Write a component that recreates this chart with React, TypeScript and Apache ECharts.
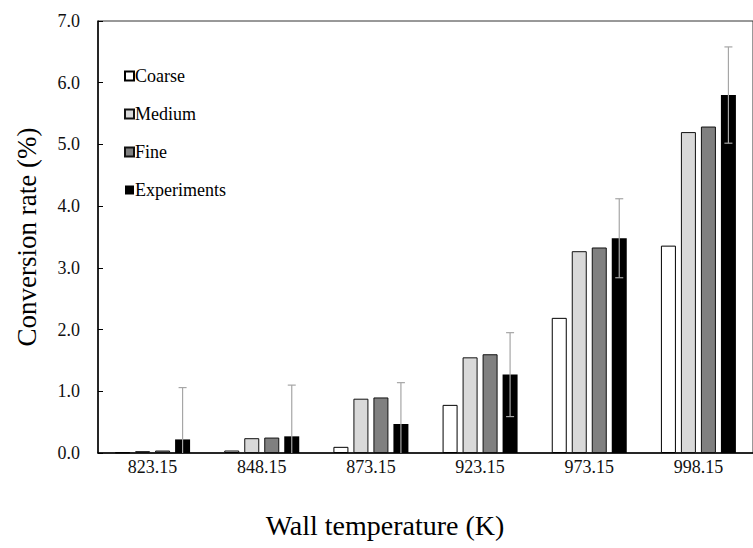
import React, { useEffect, useRef } from "react";
import * as echarts from "echarts";

const categories = ["823.15", "848.15", "873.15", "923.15", "973.15", "998.15"];
const coarse = [0.01, 0.04, 0.1, 0.78, 2.19, 3.36];
const medium = [0.03, 0.24, 0.88, 1.55, 3.27, 5.2];
const fine = [0.04, 0.25, 0.9, 1.6, 3.33, 5.29];
const experiments = [0.22, 0.27, 0.47, 1.27, 3.48, 5.8];
const expError = [0.84, 0.83, 0.67, 0.68, 0.64, 0.78];
const yTicks = [0, 1, 2, 3, 4, 5, 6, 7];

const FONT = "Liberation Serif";
const BAR_W = 15;
const BAR_GAP = 5;

export default function App() {
  const ref = useRef<HTMLDivElement>(null);
  useEffect(() => {
    if (!ref.current) return;
    const chart = echarts.init(ref.current, undefined, { renderer: "svg" });
    const errData = experiments.map((v, i) => [i, Math.max(0, v - expError[i]), v + expError[i]]);
    const barBase = {
      type: "bar" as const,
      barWidth: BAR_W,
      barGap: `${(BAR_GAP / BAR_W) * 100}%`,
    };
    chart.setOption({
      animation: false,
      backgroundColor: "#fff",
      textStyle: { fontFamily: FONT },
      grid: { left: 98, top: 21, width: 660, height: 432, show: true, borderColor: "#333", borderWidth: 1, backgroundColor: "transparent" },
      legend: {
        orient: "vertical",
        left: 119,
        top: 62,
        itemWidth: 9,
        itemHeight: 9,
        itemGap: 20,
        icon: "rect",
        textStyle: { fontFamily: FONT, fontSize: 18, color: "#000", padding: [0, 0, 0, -4] },
        data: ["Coarse", "Medium", "Fine", "Experiments"],
      },
      xAxis: {
        type: "category",
        data: categories,
        axisLine: { lineStyle: { color: "#000", width: 1.5 } },
        axisTick: { show: false },
        axisLabel: { fontFamily: FONT, fontSize: 18, color: "#111", margin: 5 },
      },
      yAxis: {
        type: "value",
        min: yTicks[0],
        max: yTicks[yTicks.length - 1],
        interval: 1,
        splitLine: { show: false },
        axisLine: { show: true, lineStyle: { color: "#000", width: 1.5 } },
        axisTick: { show: true, inside: true, length: 5, lineStyle: { color: "#000" } },
        axisLabel: { fontFamily: FONT, fontSize: 18, color: "#111", margin: 18, formatter: (v: number) => v.toFixed(1) },
      },
      graphic: [
        {
          type: "text",
          x: 385,
          y: 525,
          style: { text: "Wall temperature (K)", fontFamily: FONT, fontSize: 28, fill: "#000", align: "center", verticalAlign: "middle" },
        },
        {
          type: "text",
          x: 27,
          y: 237,
          rotation: Math.PI / 2,
          style: { text: "Conversion rate (%)", fontFamily: FONT, fontSize: 27, fill: "#000", align: "center", verticalAlign: "middle" },
        },
      ],
      series: [
        { ...barBase, name: "Coarse", data: coarse, itemStyle: { color: "#ffffff", borderColor: "#000", borderWidth: 1 } },
        { ...barBase, name: "Medium", data: medium, itemStyle: { color: "#d9d9d9", borderColor: "#111", borderWidth: 1 } },
        { ...barBase, name: "Fine", data: fine, itemStyle: { color: "#808080", borderColor: "#111", borderWidth: 1 } },
        { ...barBase, name: "Experiments", data: experiments, itemStyle: { color: "#000000" } },
        {
          type: "custom",
          name: "err",
          data: errData,
          encode: { x: 0, y: [1, 2] },
          z: 10,
          renderItem: (params: any, api: any) => {
            const xi = api.value(0);
            const lo = api.coord([xi, api.value(1)]);
            const hi = api.coord([xi, api.value(2)]);
            const x = hi[0] + 1.5 * (BAR_W + BAR_GAP);
            const cap = 4;
            const style = { stroke: "#a6a6a6", lineWidth: 1.2 };
            const children: any[] = [
              { type: "line", shape: { x1: x, y1: lo[1], x2: x, y2: hi[1] }, style },
              { type: "line", shape: { x1: x - cap, y1: hi[1], x2: x + cap, y2: hi[1] }, style },
            ];
            if (api.value(1) > 0) {
              children.push({ type: "line", shape: { x1: x - cap, y1: lo[1], x2: x + cap, y2: lo[1] }, style });
            }
            return { type: "group", children };
          },
        },
      ],
    });
    return () => chart.dispose();
  }, []);
  return <div ref={ref} style={{ width: 753, height: 548, position: "absolute", left: 0, top: 0 }} />;
}
